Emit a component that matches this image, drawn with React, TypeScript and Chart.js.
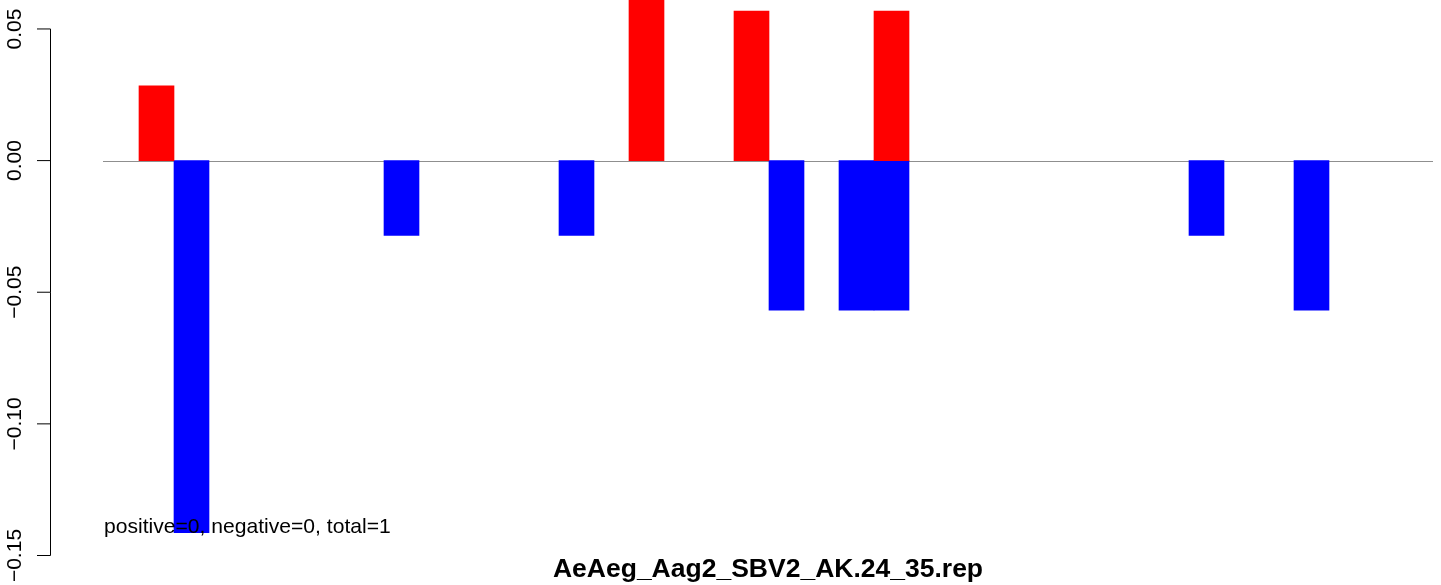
import React, { useEffect, useRef } from "react";
import { Chart, registerables } from "chart.js";

Chart.register(...registerables);

// Categories: 38 positions along the x axis
const positions = [
  "1", "2", "3", "4", "5", "6", "7", "8", "9", "10",
  "11", "12", "13", "14", "15", "16", "17", "18", "19", "20",
  "21", "22", "23", "24", "25", "26", "27", "28", "29", "30",
  "31", "32", "33", "34", "35", "36", "37", "38",
];

// Positive (red) values
const positiveValues: (number | null)[] = [
  null, 0.0284, null, null, null, null, null, null, null, null,
  null, null, null, null, null, 0.0852, null, null, 0.0568, null,
  null, null, 0.0568, null, null, null, null, null, null, null,
  null, null, null, null, null, null, null, null,
];

// Negative (blue) values
const negativeValues: (number | null)[] = [
  null, null, -0.1413, null, null, null, null, null, -0.0284, null,
  null, null, null, -0.0284, null, null, null, null, null, -0.0568,
  null, -0.0568, -0.0568, null, null, null, null, null, null, null,
  null, -0.0284, null, null, -0.0568, null, null, null,
];

const yTickValues = [-0.15, -0.1, -0.05, 0.0, 0.05];
const yTickLabels = ["\u22120.15", "\u22120.10", "\u22120.05", "0.00", "0.05"];

const titleText = "AeAeg_Aag2_SBV2_AK.24_35.rep";
const noteText = "positive=0, negative=0, total=1";

const FONT = "'Liberation Sans', Arial, Helvetica, sans-serif";

export default function App() {
  const ref = useRef<HTMLCanvasElement | null>(null);

  useEffect(() => {
    if (!ref.current) return;

    const decor = {
      id: "rDecor",
      beforeDatasetsDraw(chart: any) {
        const ctx = chart.ctx;
        const y = chart.scales.y;
        const area = chart.chartArea;
        const py = Math.round(y.getPixelForValue(0)) + 0.5;
        ctx.save();
        ctx.strokeStyle = "#8f8f8f";
        ctx.lineWidth = 1.2;
        ctx.beginPath();
        ctx.moveTo(area.left - 1, py);
        ctx.lineTo(area.right - 1, py);
        ctx.stroke();
        ctx.restore();
      },
      afterDatasetsDraw(chart: any) {
        const ctx = chart.ctx;
        const y = chart.scales.y;
        const area = chart.chartArea;
        ctx.save();
        // y axis line
        const ax = 50.5;
        ctx.strokeStyle = "#000";
        ctx.lineWidth = 1;
        ctx.beginPath();
        ctx.moveTo(ax, y.getPixelForValue(0.05));
        ctx.lineTo(ax, y.getPixelForValue(-0.15));
        ctx.stroke();
        // ticks + labels
        ctx.fillStyle = "#000";
        ctx.font = `21px ${FONT}`;
        yTickValues.forEach((v, i) => {
          const p = y.getPixelForValue(v);
          ctx.beginPath();
          ctx.moveTo(37, p);
          ctx.lineTo(ax, p);
          ctx.stroke();
          ctx.save();
          ctx.translate(20.5, p);
          ctx.rotate(-Math.PI / 2);
          ctx.textAlign = "center";
          ctx.textBaseline = "alphabetic";
          ctx.fillText(yTickLabels[i], 0, 0);
          ctx.restore();
        });
        // note text
        ctx.font = `21.1px ${FONT}`;
        ctx.textAlign = "left";
        ctx.textBaseline = "alphabetic";
        ctx.fillText(noteText, 104, 533);
        // title
        ctx.font = `bold 26.5px ${FONT}`;
        ctx.textAlign = "center";
        ctx.fillText(titleText, 768, 577);
        ctx.restore();
      },
    };

    const chart = new Chart(ref.current, {
      type: "bar",
      data: {
        labels: positions,
        datasets: [
          {
            label: "positive",
            data: positiveValues,
            backgroundColor: "#ff0000",
            borderWidth: 0,
            barPercentage: 1,
            categoryPercentage: 1,
          },
          {
            label: "negative",
            data: negativeValues,
            backgroundColor: "#0000ff",
            borderWidth: 0,
            barPercentage: 1,
            categoryPercentage: 1,
          },
        ],
      },
      options: {
        responsive: false,
        animation: false,
        layout: { padding: { left: 104, right: 7, top: 0, bottom: 29.5 } },
        scales: {
          x: { display: false, stacked: true, offset: true, grid: { display: false } },
          y: { display: false, stacked: true, min: -0.15, max: 0.061, grid: { display: false } },
        },
        plugins: {
          legend: { display: false },
          tooltip: { enabled: false },
          title: { display: false },
        },
      },
      plugins: [decor],
    });

    return () => chart.destroy();
  }, []);

  return (
    <div style={{ position: "absolute", left: 0, top: 0, width: 1441, height: 585, background: "#fff" }}>
      <canvas ref={ref} width={1441} height={585} />
    </div>
  );
}
